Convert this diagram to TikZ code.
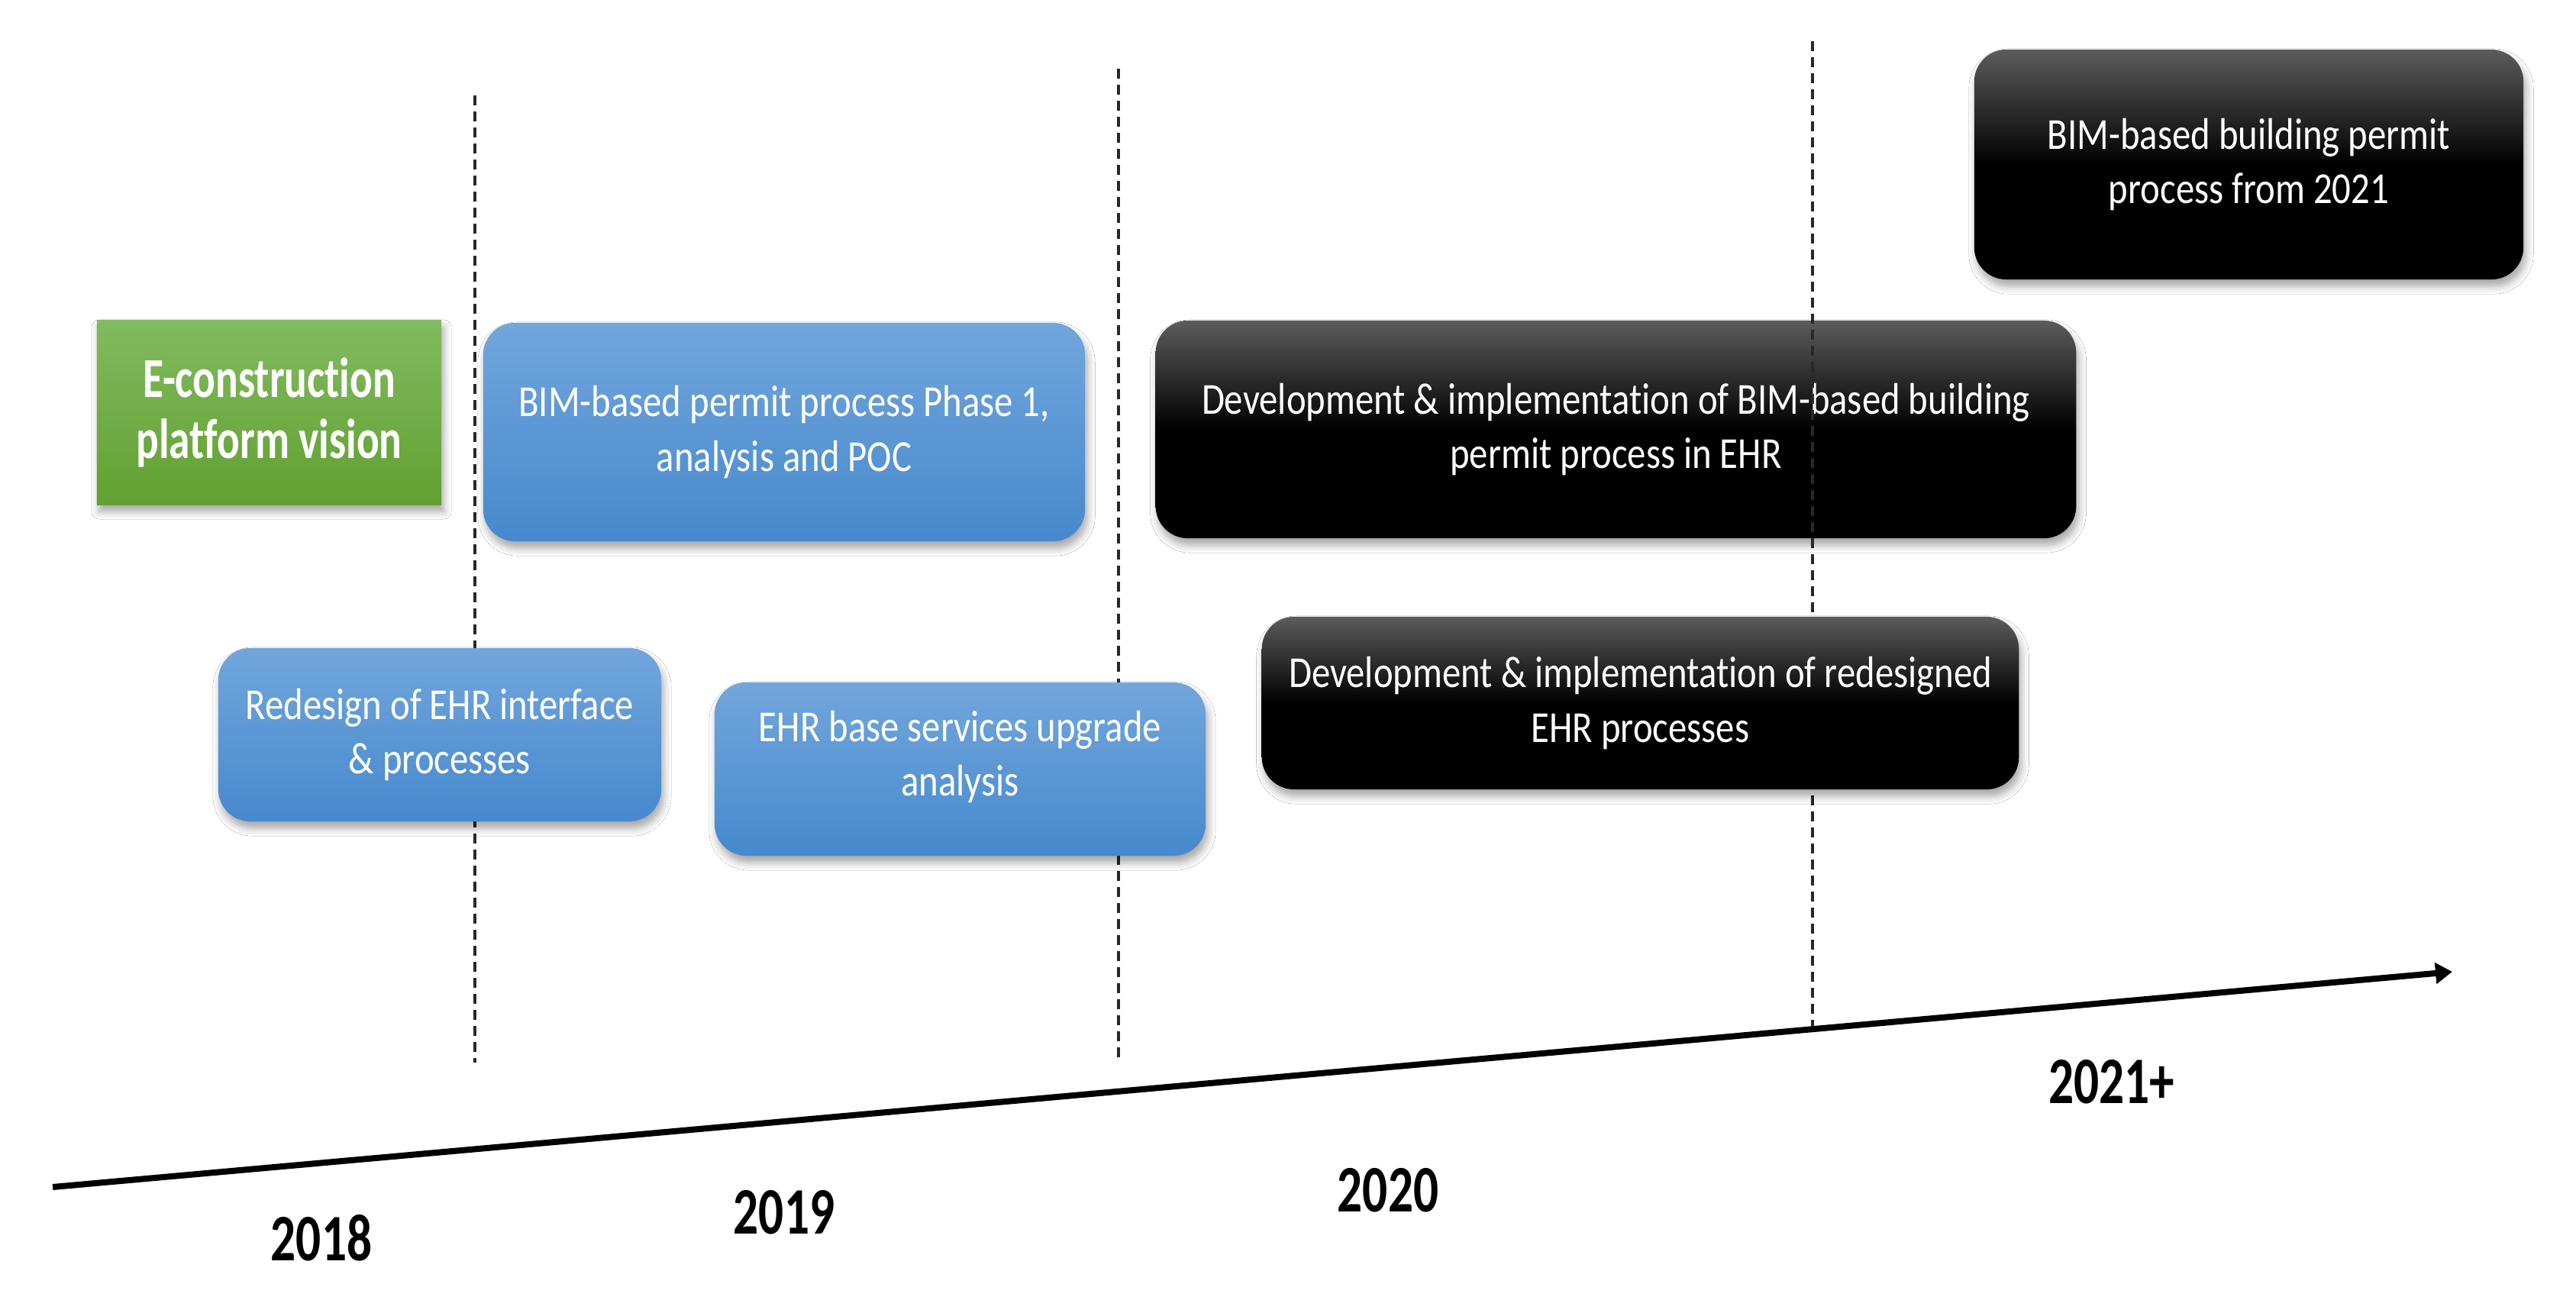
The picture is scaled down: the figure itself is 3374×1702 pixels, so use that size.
\documentclass[tikz,border=0pt]{standalone}
\usepackage{fontspec}
\usetikzlibrary{arrows.meta,shadows.blur}
\newfontfamily\regfont{Carlito}[FakeStretch=0.84, Ligatures={NoCommon}, RawFeature={-liga;-clig;-dlig}]
\newfontfamily\bfont{Carlito}[FakeStretch=0.75, Ligatures={NoCommon}, RawFeature={-liga;-clig;-dlig}]
\definecolor{blueT}{RGB}{114,166,220}
\definecolor{blueB}{RGB}{70,137,205}
\definecolor{greenT}{RGB}{130,187,96}
\definecolor{greenB}{RGB}{97,160,48}
\definecolor{blackT}{RGB}{92,92,92}
\definecolor{dashc}{RGB}{40,40,40}
\tikzset{
  boxbase/.style={inner sep=0pt, text=white, align=center,
    font=\regfont\fontsize{16.5}{20.2}\selectfont,
    blur shadow={shadow xshift=0.03cm, shadow yshift=-0.09cm, shadow opacity=35, shadow blur radius=0.1cm}},
  bluebox/.style={boxbase, rounded corners=0.42cm, top color=blueT, bottom color=blueB},
  blackbox/.style={boxbase, rounded corners=0.42cm, top color=blackT, bottom color=black, middle color=black},
  greenbox/.style={boxbase, top color=greenT, bottom color=greenB,
    font=\bfont\bfseries\fontsize{21}{22.8}\selectfont},
  yearlbl/.style={inner sep=0pt, font=\bfont\bfseries\fontsize{24.75}{28}\selectfont},
  yearsep/.style={draw=dashc, line width=1pt, dash pattern=on 0.13cm off 0.08cm},
}
\begin{document}
\begin{tikzpicture}[x=0.01cm,y=-0.01cm]
\useasboundingbox[fill=white] (0,0) rectangle (3374,1702);
% box crossed by dashed line
\node[blackbox, minimum width=12.05cm, minimum height=2.85cm] (devbim) at (2116.5,562.5)
  {Development \& implementation of BIM-based building\\permit process in EHR};
% dashed separators
\coordinate (d1a) at (622,125);  \coordinate (d1b) at (622,1392);
\coordinate (d2a) at (1465,90);  \coordinate (d2b) at (1465,1392);
\coordinate (d3a) at (2374,54);  \coordinate (d3b) at (2374,1356);
\draw[yearsep] (d1a) -- (d1b);
\draw[yearsep] (d2a) -- (d2b);
\draw[yearsep] (d3a) -- (d3b);
% boxes
\node[greenbox, minimum width=4.51cm, minimum height=2.41cm] (vision) at (352.5,540.5)
  {E-construction\\platform vision};
\node[bluebox, minimum width=7.88cm, minimum height=2.86cm] (phase1) at (1027,566)
  {BIM-based permit process Phase 1,\\analysis and POC};
\node[bluebox, minimum width=5.80cm, minimum height=2.27cm] (redesign) at (576,962.5)
  {Redesign of EHR interface\\\& processes};
\node[bluebox, minimum width=6.43cm, minimum height=2.27cm, text depth=0.42cm] (ehrbase) at (1257.5,1007.5)
  {EHR base services upgrade\\analysis};
\node[blackbox, minimum width=9.91cm, minimum height=2.26cm] (devred) at (2148.5,921)
  {Development \& implementation of redesigned\\EHR processes};
\node[blackbox, minimum width=7.19cm, minimum height=3.01cm] (bim21) at (2945.5,215.5)
  {BIM-based building permit\\process from 2021};
% time axis
\coordinate (tstart) at (69,1555);
\coordinate (tend) at (3212,1273);
\draw[line width=0.08cm, -{Triangle[length=0.22cm, width=0.27cm]}] (tstart) -- (tend);
% years
\node[yearlbl] (y18) at (421,1622) {2018};
\node[yearlbl] (y19) at (1027,1588) {2019};
\node[yearlbl] (y20) at (1818,1559) {2020};
\node[yearlbl] (y21) at (2766,1417) {2021+};
\end{tikzpicture}
\end{document}
